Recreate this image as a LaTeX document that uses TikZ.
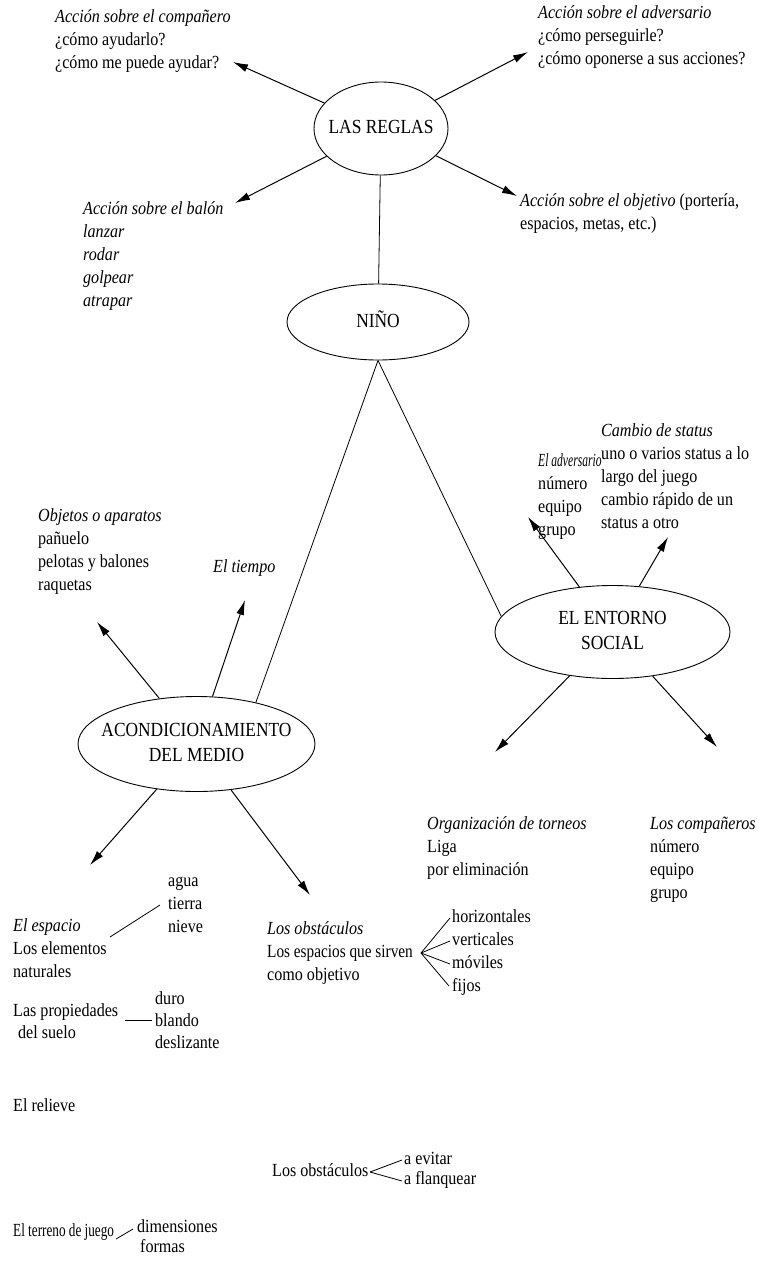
\documentclass[tikz,border=0pt]{standalone}
\usepackage{fontspec}
\usepackage{graphicx}
\setmainfont[FakeStretch=0.87]{Liberation Serif}
\usetikzlibrary{shapes.geometric,arrows.meta}
\newcommand\ovtext[1]{\makebox[0pt]{\begin{tabular}{@{}c@{}}#1\end{tabular}}}
\begin{document}
\begin{tikzpicture}[x=1pt,y=-1pt,
  txt/.style={anchor=north west, align=left, inner sep=0pt, font=\fontsize{18.5}{23}\selectfont},
  txtw/.style={anchor=west, inner sep=0pt, font=\fontsize{18.5}{23}\selectfont},
  oval/.style={draw, ellipse, inner sep=0pt, line width=0.9pt, font=\fontsize{20}{25}\selectfont},
  arr/.style={-{Latex[length=15pt,width=8pt]}, line width=1pt},
  ln/.style={line width=0.8pt}]
\useasboundingbox (0,0) rectangle (759,1282);
\fill[white] (0,0) rectangle (759,1282);

% ellipses
\node[oval, minimum width=134pt, minimum height=93pt] (reglas) at (381,128.5) {\ovtext{LAS REGLAS}};
\node[oval, minimum width=182pt, minimum height=76pt] (nino) at (378,322) {\ovtext{NIÑO}};
\node[oval, minimum width=237pt, minimum height=95pt] (acond) at (196.5,744) {\ovtext{ACONDICIONAMIENTO\\DEL MEDIO}};
\node[oval, minimum width=235pt, minimum height=93pt] (entorno) at (612.5,632) {\ovtext{EL ENTORNO\\SOCIAL}};

% texts around LAS REGLAS
\node[txt] (comp) at (55,6.5) {\strut\textit{Acción sobre el compañero}\\¿cómo ayudarlo?\\¿cómo me puede ayudar?};
\node[txt] (adv) at (538,2.5) {\strut\textit{Acción sobre el adversario}\\¿cómo perseguirle?\\¿cómo oponerse a sus acciones?};
\node[txt] (balon) at (83,198.5) {\strut\textit{Acción sobre el balón}\\\textit{lanzar}\\\textit{rodar}\\\textit{golpear}\\\textit{atrapar}};
\node[txt] (obj) at (520,190.5) {\strut\textit{Acción sobre el objetivo} (portería,\\espacios, metas, etc.)};

\coordinate (tcomp) at (233,62);
\coordinate (tadv) at (528,52);
\coordinate (tbal) at (235,203);
\coordinate (tobj) at (517,196);
\draw[arr] (reglas) -- (tcomp);
\draw[arr] (reglas) -- (tadv);
\draw[arr] (reglas) -- (tbal);
\draw[arr] (reglas) -- (tobj);

\draw[ln] (reglas) -- (nino);
\draw[ln] (nino.south) -- (acond.35);
\draw[ln] (nino.south) -- (entorno.172);

% EL ENTORNO SOCIAL
\node[txt] (adv2) at (538,450.5) {\strut\scalebox{0.72}[1]{\textit{El adversario}}\\número\\equipo\\grupo};
\node[txt] (status) at (601,420.5) {\strut\textit{Cambio de status}\\uno o varios status a lo\\largo del juego\\cambio rápido de un\\status a otro};
\node[txt] (torneos) at (427,813.5) {\strut\textit{Organización de torneos}\\Liga\\por eliminación};
\node[txt] (comps) at (650,813.5) {\strut\textit{Los compañeros}\\número\\equipo\\grupo};
\coordinate (tadv2) at (528,517);
\coordinate (tstat) at (668,537);
\coordinate (ttor) at (495,752);
\coordinate (tcomps) at (717,747);
\draw[arr] (entorno) -- (tadv2);
\draw[arr] (entorno) -- (tstat);
\draw[arr] (entorno) -- (ttor);
\draw[arr] (entorno) -- (tcomps);

% ACONDICIONAMIENTO DEL MEDIO
\node[txt] (objetos) at (38,505.5) {\strut\textit{Objetos o aparatos}\\pañuelo\\pelotas y balones\\raquetas};
\node[txt] (tiempo) at (213,556.5) {\strut\textit{El tiempo}};
\coordinate (tobjetos) at (97,622);
\coordinate (ttiempo) at (245,600);
\coordinate (tesp) at (90,865);
\coordinate (tobst) at (310,895);
\draw[arr] (acond) -- (tobjetos);
\draw[arr] (acond) -- (ttiempo);
\draw[arr] (acond) -- (tesp);
\draw[arr] (acond) -- (tobst);

% El espacio
\node[txt] (agua) at (168,870.5) {\strut agua\\tierra\\nieve};
\node[txt] (espacio) at (13,915.5) {\strut\textit{El espacio}\\Los elementos\\naturales};
\coordinate (e1) at (110,937);
\coordinate (e2) at (160,905);
\draw[ln] (e1) -- (e2);

% Los obstaculos
\node[txt] (obst) at (267,918.5) {\strut\textit{Los obstáculos}\\\scalebox{0.95}[1]{Los espacios que sirven}\\como objetivo};
\node[txt] (tipos) at (452,906.5) {\strut horizontales\\verticales\\móviles\\fijos};
\coordinate (bo) at (421,953);
\coordinate (b1) at (450,918);
\coordinate (b2) at (450,941);
\coordinate (b3) at (450,964);
\coordinate (b4) at (449,986);
\draw[ln] (bo) -- (b1);
\draw[ln] (bo) -- (b2);
\draw[ln] (bo) -- (b3);
\draw[ln] (bo) -- (b4);

% propiedades del suelo
\node[txt, font=\fontsize{18.5}{22}\selectfont] (prop) at (13,1001) {\strut Las propiedades\\\hspace{5pt}del suelo};
\node[txt, font=\fontsize{18.5}{22}\selectfont] (duro) at (155,989) {\strut duro\\blando\\deslizante};
\coordinate (p1) at (125,1020);
\coordinate (p2) at (152,1020);
\draw[ln] (p1) -- (p2);

\node[txt] (relieve) at (13,1095.5) {\strut El relieve};

% Los obstaculos (bottom)
\node[txtw] (obst2) at (272,1170) {Los obstáculos};
\node[txt, font=\fontsize{18.5}{20}\selectfont] (evitar) at (404,1150.5) {\strut a evitar\\a flanquear};
\coordinate (o0) at (370,1172);
\coordinate (o1) at (402,1160);
\coordinate (o2) at (402,1181);
\draw[ln] (o0) -- (o1);
\draw[ln] (o0) -- (o2);

% terreno de juego
\node[txtw] (terreno) at (13,1232) {\scalebox{0.82}[1]{El terreno de juego}};
\node[txt, font=\fontsize{18.5}{20}\selectfont] (dim) at (137,1218.5) {\strut dimensiones\\\hspace{3pt}formas};
\coordinate (j1) at (116,1239);
\coordinate (j2) at (133,1229);
\draw[ln] (j1) -- (j2);
\end{tikzpicture}
\end{document}
